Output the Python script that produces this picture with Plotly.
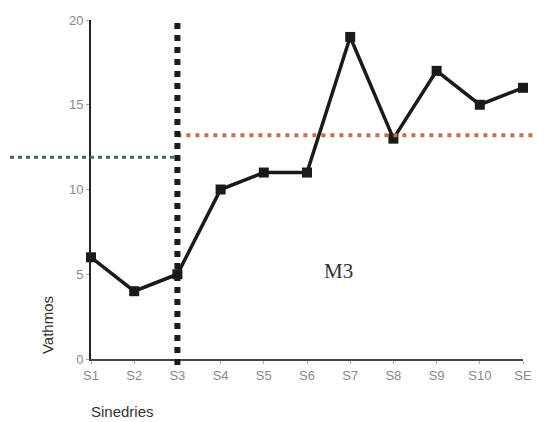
import plotly.graph_objects as go

categories = ["S1", "S2", "S3", "S4", "S5", "S6", "S7", "S8", "S9", "S10", "SE"]
values = [6, 4, 5, 10, 11, 11, 19, 13, 17, 15, 16]
y_ticks = [0, 5, 10, 15, 20]
green_level = 11.9
orange_level = 13.2
split_index = 2  # S3

x_idx = list(range(len(categories)))
n_max = len(categories) - 1
split_paper = split_index / n_max

fig = go.Figure()
fig.add_trace(go.Scatter(
    x=x_idx, y=values, mode="lines+markers",
    line=dict(color="#1a1a1a", width=3.5),
    marker=dict(symbol="square", size=10, color="#1a1a1a"),
    cliponaxis=False, showlegend=False,
))

fig.add_shape(type="line", xref="paper", yref="y",
              x0=-0.1875, x1=split_paper, y0=green_level, y1=green_level,
              line=dict(color="#4b6b52", width=3, dash="4px,4px"))
fig.add_shape(type="line", xref="paper", yref="y",
              x0=split_paper, x1=1.05, y0=orange_level, y1=orange_level,
              line=dict(color="#c4724c", width=4, dash="4px,5px"))
fig.add_shape(type="line", xref="paper", yref="paper",
              x0=split_paper, x1=split_paper, y0=-0.018, y1=1.0,
              line=dict(color="#1a1a1a", width=6, dash="6px,6px"))

fig.add_annotation(text="M3", x=0.572, y=0.26, xref="paper", yref="paper",
                   xanchor="center", yanchor="middle", showarrow=False,
                   font=dict(family="Liberation Serif", size=21, color="#333333"))
fig.add_annotation(text="Vathmos", x=-0.102, y=0.1, xref="paper", yref="paper",
                   textangle=-90, showarrow=False, xanchor="center", yanchor="middle",
                   font=dict(family="Liberation Sans", size=15, color="#333333"))
fig.add_annotation(text="Sinedries", x=0.074, y=-0.156, xref="paper", yref="paper",
                   showarrow=False, xanchor="center", yanchor="middle",
                   font=dict(family="Liberation Sans", size=15, color="#333333"))

fig.update_xaxes(range=[0, n_max], tickmode="array", tickvals=x_idx, ticktext=categories,
                 showgrid=False, zeroline=False, showline=True, linecolor="#444444", linewidth=2,
                 ticks="outside", ticklen=3, tickcolor="#aaaaaa", automargin=False,
                 tickfont=dict(family="Liberation Sans", size=13, color="#8a8a8a"))
fig.update_yaxes(range=[0, 20], tickvals=y_ticks, showgrid=False, zeroline=False,
                 showline=True, linecolor="#222222", linewidth=2, automargin=False,
                 ticks="outside", ticklen=3, tickcolor="#aaaaaa",
                 tickfont=dict(family="Liberation Sans", size=13, color="#8a8a8a"))

fig.update_layout(width=545, height=422, margin=dict(l=83, r=30, t=12, b=71),
                  plot_bgcolor="white", paper_bgcolor="white")
fig.write_html("out.html")
